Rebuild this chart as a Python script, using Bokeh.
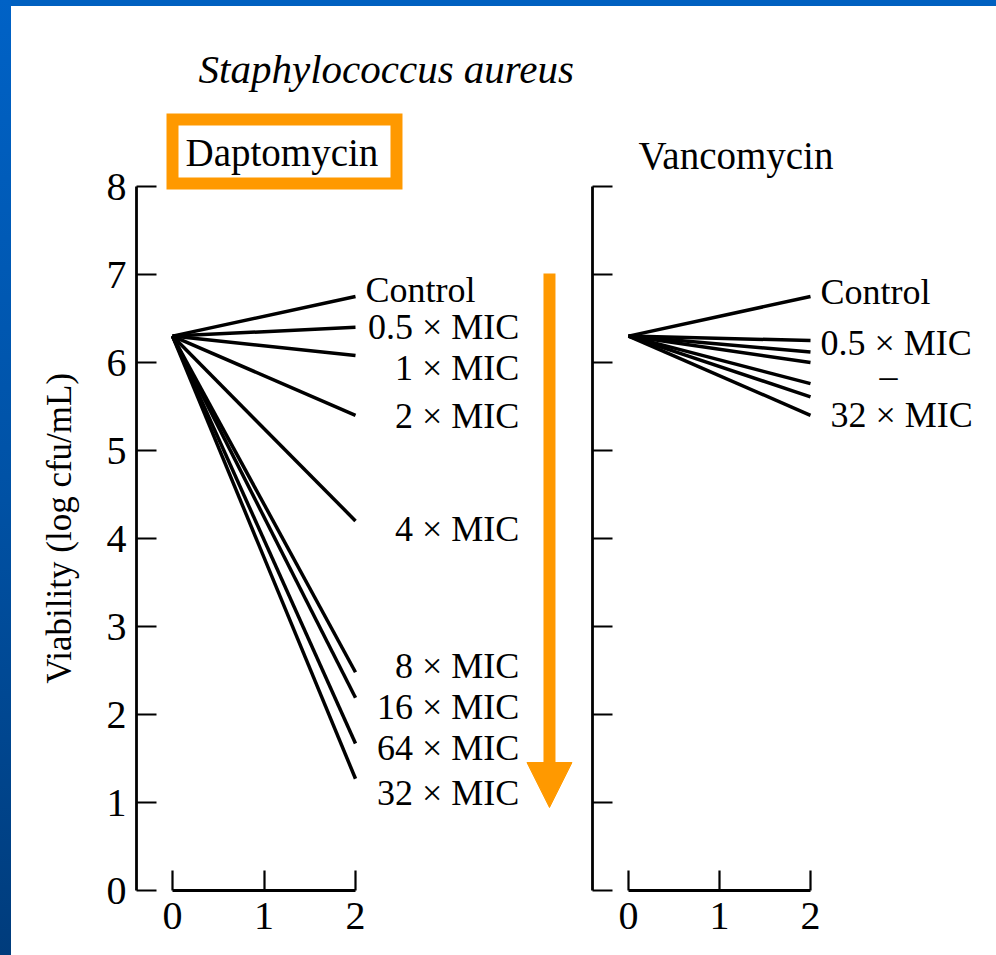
import math
from bokeh.plotting import figure
from bokeh.models import (ColumnDataSource, FixedTicker, Arrow, NormalHead, Div, Range1d)
from bokeh.layouts import row, column
from bokeh.core.properties import value
from bokeh.embed import file_html
from bokeh.resources import INLINE

# ---------------- data ----------------
time_h = [0, 2]
start_viability = 6.3

dapto_labels = ["Control", "0.5 × MIC", "1 × MIC", "2 × MIC", "4 × MIC",
                "8 × MIC", "16 × MIC", "64 × MIC", "32 × MIC"]
dapto_end = [6.75, 6.40, 6.08, 5.40, 4.20, 2.48, 2.19, 1.67, 1.27]

vanco_series = ["Control", "0.5 × MIC", "1 × MIC", "2 × MIC", "4 × MIC", "8 × MIC", "32 × MIC"]
vanco_end = [6.75, 6.25, 6.12, 6.00, 5.76, 5.61, 5.40]
vanco_labels = ["Control", "0.5 × MIC", "–", "32 × MIC"]

y_ticks = [0, 1, 2, 3, 4, 5, 6, 7, 8]
x_ticks = [0, 1, 2]

title_text = "Staphylococcus aureus"
panel_titles = ["Daptomycin", "Vancomycin"]
y_label_text = "Viability (log cfu/mL)"

# ---------------- label placement (layout, not data) ----------------
dapto_label_y = [6.82, 6.40, 5.94, 5.39, 4.11, 2.55, 2.09, 1.62, 1.11]
vanco_label_x = [2.11, 2.11, 2.857, 2.22]
vanco_label_y = [6.80, 6.22, 5.85, 5.40]

FONT = "Liberation Serif"
ORANGE = "#FF9900"
Y_END = 870 / 88.0
LINE_W = 3.5


def style_axes(p, show_y_labels):
    for ax in (p.xaxis[0], p.yaxis[0]):
        ax.axis_line_width = 2.8
        ax.axis_line_color = "black"
        ax.major_tick_line_width = 2.2
        ax.major_tick_line_color = "black"
        ax.major_tick_in = 20
        ax.major_tick_out = 0
        ax.minor_tick_line_color = None
        ax.major_label_text_font = FONT
        ax.major_label_text_font_size = "40px"
        ax.major_label_text_color = "black"
    p.xaxis[0].ticker = FixedTicker(ticks=x_ticks)
    p.xaxis[0].bounds = (0, 2)
    p.xaxis[0].major_label_standoff = 12
    p.yaxis[0].ticker = FixedTicker(ticks=y_ticks)
    p.yaxis[0].bounds = (0, 8)
    p.yaxis[0].major_label_standoff = 10
    if not show_y_labels:
        p.yaxis[0].major_label_overrides = {t: "" for t in y_ticks}
        p.yaxis[0].major_label_standoff = 0
    p.xgrid.visible = False
    p.ygrid.visible = False
    p.outline_line_color = None


# ---------------- y-axis title strip ----------------
p0 = figure(width=69, height=949, output_backend="svg", toolbar_location=None,
            x_range=Range1d(0, 69), y_range=Range1d(0, 949),
            min_border=0, x_axis_location=None, y_axis_location=None)
p0.margin = 0
p0.xgrid.visible = False
p0.ygrid.visible = False
p0.outline_line_color = None
p0.text(x=[48], y=[395], text=[y_label_text], angle=math.pi / 2, text_font=value(FONT),
        text_font_size=value("35px"), text_align="center", text_baseline="middle", text_color="black")

# ---------------- left panel: Daptomycin ----------------
p1 = figure(width=508, height=949, output_backend="svg", toolbar_location=None,
            x_range=Range1d(-36 / 91.5, 416 / 91.5), y_range=Range1d(0, Y_END),
            min_border_left=56, min_border_right=0, min_border_top=14, min_border_bottom=65)
p1.margin = 0
style_axes(p1, True)

src1 = ColumnDataSource(dict(xs=[time_h for _ in dapto_end],
                             ys=[[start_viability, e] for e in dapto_end]))
p1.multi_line(xs="xs", ys="ys", source=src1, line_color="black", line_width=LINE_W)

lab1 = ColumnDataSource(dict(x=[2.109], y=dapto_label_y[:1], t=dapto_labels[:1]))
p1.text(x="x", y="y", text="t", source=lab1, text_font=value(FONT),
        text_font_size=value("36px"), text_align="left", text_baseline="middle", text_color="black")
lab1b = ColumnDataSource(dict(x=[3.79] * (len(dapto_labels) - 1), y=dapto_label_y[1:], t=dapto_labels[1:]))
p1.text(x="x", y="y", text="t", source=lab1b, text_font=value(FONT),
        text_font_size=value("36px"), text_align="right", text_baseline="middle", text_color="black")

# title and panel title
p1.text(x=[0.285], y=[9.34], text=[title_text], text_font=value(FONT), text_font_style="italic",
        text_font_size=value("41px"), text_align="left", text_baseline="middle", text_color="black")
p1.text(x=[0.142], y=[8.386], text=[panel_titles[0]], text_font=value(FONT),
        text_font_size=value("39px"), text_align="left", text_baseline="middle", text_color="black")

# orange highlight box
p1.quad(left=[0.0], right=[2.448], top=[8.761], bottom=[8.034], fill_color=None,
        line_color=ORANGE, line_width=12, line_join="miter")

# orange arrow
p1.add_layout(Arrow(end=NormalHead(size=45, fill_color=ORANGE, line_color=ORANGE, line_width=1),
                    x_start=4.12, y_start=7.011, x_end=4.12, y_end=0.943,
                    line_color=ORANGE, line_width=12))

# ---------------- right panel: Vancomycin ----------------
p2 = figure(width=408, height=949, output_backend="svg", toolbar_location=None,
            x_range=Range1d(-36 / 91.0, 357 / 91.0), y_range=Range1d(0, Y_END),
            min_border_left=4, min_border_right=11, min_border_top=14, min_border_bottom=65)
p2.margin = 0
style_axes(p2, False)

src2 = ColumnDataSource(dict(xs=[time_h for _ in vanco_end],
                             ys=[[start_viability, e] for e in vanco_end]))
p2.multi_line(xs="xs", ys="ys", source=src2, line_color="black", line_width=LINE_W)

lab2 = ColumnDataSource(dict(x=[vanco_label_x[0], vanco_label_x[1], vanco_label_x[3]],
                             y=[vanco_label_y[0], vanco_label_y[1], vanco_label_y[3]],
                             t=[vanco_labels[0], vanco_labels[1], vanco_labels[3]]))
p2.text(x="x", y="y", text="t", source=lab2, text_font=value(FONT),
        text_font_size=value("36px"), text_align="left", text_baseline="middle", text_color="black")
p2.text(x=[vanco_label_x[2]], y=[vanco_label_y[2]], text=[vanco_labels[2]], text_font=value(FONT),
        text_font_size=value("36px"), text_align="center", text_baseline="middle", text_color="black")

p2.text(x=[0.11], y=[8.35], text=[panel_titles[1]], text_font=value(FONT),
        text_font_size=value("39px"), text_align="left", text_baseline="middle", text_color="black")

# ---------------- slide frame ----------------
left_strip = Div(text="", width=11, height=955, margin=0,
                 styles={"background": "linear-gradient(180deg, #0062c6 0%, #0052a6 50%, #003c7c 100%)"})
top_strip = Div(text="", width=985, height=6, margin=0, styles={"background": "#0060c0"})

layout = row(left_strip, column(top_strip, row(p0, p1, p2, spacing=0), spacing=0), spacing=0)

open("out.html", "w").write(file_html(layout, INLINE))
